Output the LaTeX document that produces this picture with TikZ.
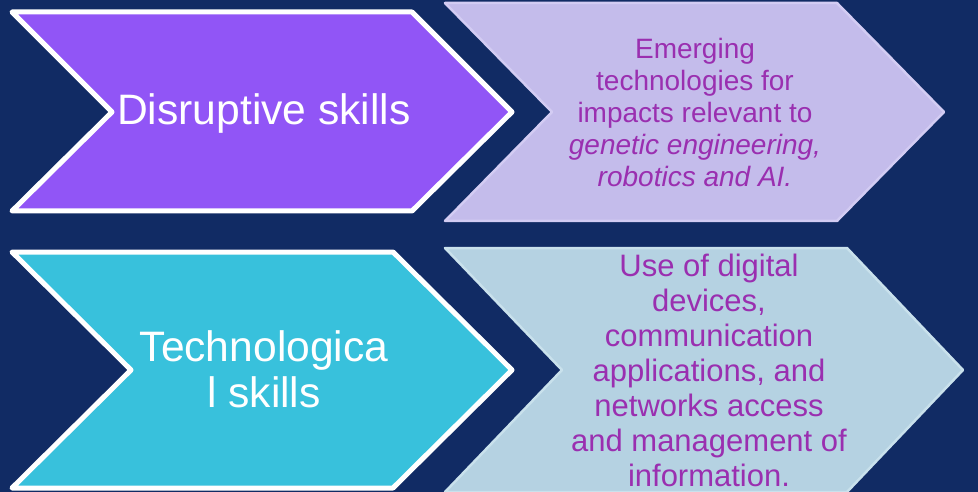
\documentclass[tikz,border=0pt]{standalone}
\usepackage{fontspec}
\setmainfont{Liberation Sans}
\definecolor{bgnavy}{HTML}{112B64}
\definecolor{chpurple}{HTML}{9155F6}
\definecolor{chlav}{HTML}{C4BCEB}
\definecolor{chlavb}{HTML}{D3CCF3}
\definecolor{chcyan}{HTML}{38C1DC}
\definecolor{chlblue}{HTML}{B5D2E2}
\definecolor{chlblueb}{HTML}{C9E1EC}
\definecolor{txpurple}{HTML}{9A2FB0}
\tikzset{
  mainchev/.style={line width=5pt, draw=white, line join=round},
  subchev/.style={line width=2.5pt, line join=round},
  bigtext/.style={text=white, font=\fontsize{42.6}{46}\selectfont, inner sep=0pt, align=center},
  smalltext/.style={text=txpurple, inner sep=0pt, align=center},
}
\begin{document}
\begin{tikzpicture}[x=1pt,y=-1pt]
\fill[bgnavy] (0,0) rectangle (978,492);
\useasboundingbox (0,0) rectangle (978,492);
% top row
\draw[mainchev, fill=chpurple] (12,12) -- (412,12) -- (512,112) -- (412,211) -- (12,211) -- (112,112) -- cycle;
\draw[subchev, draw=chlavb, fill=chlav] (445,3) -- (837,3) -- (944,112) -- (837,221) -- (445,221) -- (552,112) -- cycle;
% bottom row
\draw[mainchev, fill=chcyan] (12,252) -- (393,252) -- (512,370) -- (393,488) -- (12,488) -- (131,370) -- cycle;
\draw[subchev, draw=chlblueb, fill=chlblue] (445,248) -- (847,248) -- (963,370) -- (847,492) -- (445,492) -- (562,370) -- cycle;
% texts
\node[bigtext, anchor=base] (disr) at (264,125) {Disruptive skills};
\node[smalltext, anchor=north, font=\fontsize{28}{32}\selectfont] (emerg) at (695,38)
  {Emerging\\technologies for\\impacts relevant to\\\textit{genetic engineering,}\\\textit{robotics and AI.}};
\node[bigtext, anchor=north] (techn) at (264,330) {Technologica\\l skills};
\node[smalltext, anchor=north, font=\fontsize{31}{35}\selectfont] (usedig) at (709,254)
  {Use of digital\\devices,\\communication\\applications, and\\networks access\\and management of\\information.};
\end{tikzpicture}
\end{document}
